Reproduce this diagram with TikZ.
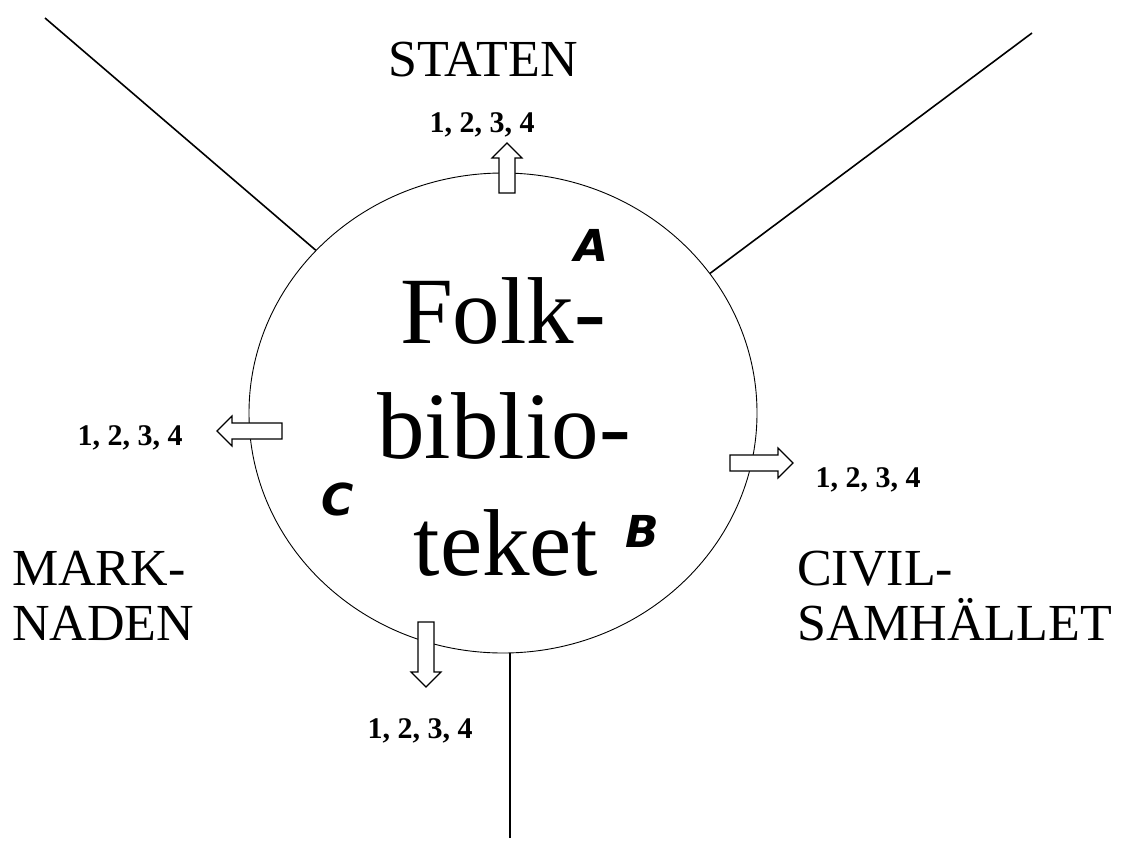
\documentclass[tikz,border=0pt]{standalone}
\usepackage{fontspec}
\setmainfont{Liberation Serif}
\newfontfamily\letterfont{DejaVu Sans}
\usetikzlibrary{shapes.geometric}
\tikzset{
  thinline/.style={line width=1.6pt},
  labeltext/.style={font=\fontsize{52}{60}\selectfont, inner sep=0pt},
  numtext/.style={font=\fontsize{30}{34}\selectfont\bfseries, inner sep=0pt},
  bigtext/.style={font=\fontsize{95}{115}\selectfont, inner sep=0pt},
  lettertext/.style={font=\fontsize{44}{48}\selectfont\letterfont\bfseries\itshape, inner sep=0pt},
  pics/barrow/.style={code={
    \draw[line width=1.1pt, fill=white] (0,-8) -- (#1-15,-8) -- (#1-15,-15) -- (#1,0) -- (#1-15,15) -- (#1-15,8) -- (0,8) -- cycle;
  }}
}
\begin{document}
\begin{tikzpicture}[x=1pt,y=-1pt]
\useasboundingbox (0,0) rectangle (1123,841);
% central circle
\node[ellipse, draw, line width=0.9pt, minimum width=508pt, minimum height=480pt, inner sep=0pt] (lib) at (503,413) {};
% outer lines
\coordinate (tl) at (45,18);
\coordinate (tr) at (1032,33);
\coordinate (bot) at (510,838);
\draw[thinline] (tl) -- (lib.139);
\draw[thinline] (tr) -- (lib.34);
\draw[thinline] (bot) -- (bot |- lib.south);
% block arrows
\pic[rotate=90] at (507,193) {barrow=50};
\pic[rotate=180] at (282,431) {barrow=65};
\pic at (730,463) {barrow=63};
\pic[rotate=-90] at (426,622) {barrow=65};
% labels
\node[labeltext, anchor=base] (staten) at (483,76) {STATEN};
\node[labeltext, anchor=base west] (mark1) at (12,585) {MARK-};
\node[labeltext, anchor=base west] (mark2) at (12,640) {NADEN};
\node[labeltext, anchor=base west] (civ1) at (797,585) {CIVIL-};
\node[labeltext, anchor=base west] (civ2) at (797,640) {SAMHÄLLET};
% numbers
\node[numtext, anchor=base] (n1) at (482,132) {1, 2, 3, 4};
\node[numtext, anchor=base] (n2) at (130,445) {1, 2, 3, 4};
\node[numtext, anchor=base] (n3) at (868,487) {1, 2, 3, 4};
\node[numtext, anchor=base] (n4) at (420,738) {1, 2, 3, 4};
% central text
\node[bigtext, anchor=base] (f1) at (503,343) {Folk-};
\node[bigtext, anchor=base] (f2) at (504,458) {biblio-};
\node[bigtext, anchor=base] (f3) at (506,575) {teket};
% letters
\node[lettertext, anchor=base] (la) at (592,261) {A};
\node[lettertext, anchor=base] (lb) at (642,547) {B};
\node[lettertext, anchor=base] (lc) at (338,515) {C};
\end{tikzpicture}
\end{document}
